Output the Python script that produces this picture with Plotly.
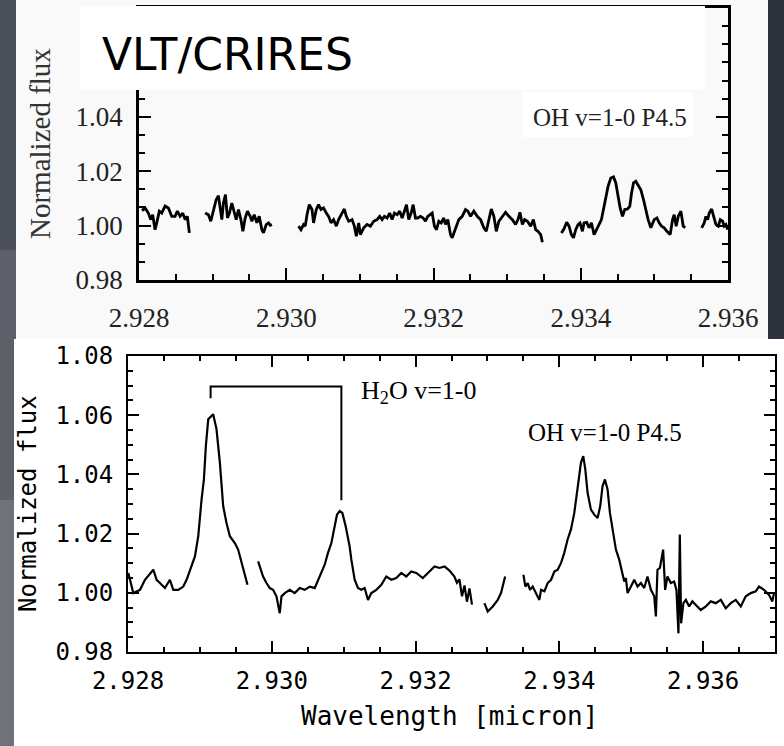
import plotly.graph_objects as go

# ---------------- data: top panel (VLT/CRIRES), segments separated by gaps ----------------
top_wl = [
    [2.928041, 2.928082, 2.928127, 2.928159, 2.928186, 2.928218, 2.928241, 2.928276, 2.928309,
     2.928354, 2.928399, 2.928445, 2.928490, 2.928521, 2.928558, 2.928595, 2.928626, 2.928657, 2.928684],
    [2.928898, 2.928943, 2.928975, 2.929011, 2.929048, 2.929079, 2.929102, 2.929125, 2.929147,
     2.929174, 2.929201, 2.929229, 2.929261, 2.929292, 2.929320, 2.929351, 2.929384, 2.929411,
     2.929442, 2.929473, 2.929510, 2.929533, 2.929565, 2.929601, 2.929633, 2.929669, 2.929691,
     2.929728, 2.929759, 2.929782, 2.929805],
    [2.930167, 2.930200, 2.930235, 2.930258, 2.930282, 2.930313, 2.930350, 2.930371, 2.930408,
     2.930439, 2.930472, 2.930507, 2.930544, 2.930575, 2.930608, 2.930643, 2.930680, 2.930711,
     2.930758, 2.930789, 2.930816, 2.930848, 2.930894, 2.930925, 2.930952, 2.930984, 2.931007,
     2.931052, 2.931098, 2.931143, 2.931188, 2.931234, 2.931269, 2.931302, 2.931333, 2.931370,
     2.931405, 2.931438, 2.931469, 2.931506, 2.931541, 2.931574, 2.931605, 2.931633, 2.931664,
     2.931696, 2.931724, 2.931755, 2.931786, 2.931823, 2.931860, 2.931891, 2.931922, 2.931959,
     2.931982, 2.932013, 2.932041, 2.932072, 2.932105, 2.932140, 2.932163, 2.932194, 2.932231,
     2.932254, 2.932299, 2.932344, 2.932390, 2.932435, 2.932467, 2.932503, 2.932548, 2.932594,
     2.932639, 2.932684, 2.932717, 2.932752, 2.932785, 2.932820, 2.932853, 2.932888, 2.932934,
     2.932979, 2.933024, 2.933071, 2.933115, 2.933147, 2.933174, 2.933207, 2.933238, 2.933275,
     2.933320, 2.933356, 2.933388, 2.933419, 2.933456, 2.933479],
    [2.933737, 2.933773, 2.933809, 2.933841, 2.933873, 2.933901, 2.933932, 2.933963, 2.933990,
     2.934023, 2.934045, 2.934081, 2.934113, 2.934145, 2.934181, 2.934213, 2.934249, 2.934281,
     2.934317, 2.934340, 2.934371, 2.934408, 2.934445, 2.934476, 2.934507, 2.934535, 2.934567,
     2.934598, 2.934635, 2.934666, 2.934690, 2.934717, 2.934748, 2.934779, 2.934816, 2.934853,
     2.934884, 2.934915, 2.934952, 2.934997, 2.935034, 2.935065, 2.935098, 2.935133, 2.935170,
     2.935215, 2.935247, 2.935269, 2.935296, 2.935324, 2.935360, 2.935392, 2.935419],
    [2.935642, 2.935677, 2.935700, 2.935724, 2.935745, 2.935778, 2.935805, 2.935836, 2.935868,
     2.935895, 2.935927, 2.935949, 2.935972, 2.935995],
]
top_flux = [
    [1.0055, 1.0065, 1.0046, 1.0022, 1.0040, 0.9985, 1.0010, 1.0053, 1.0046,
     1.0072, 1.0065, 1.0034, 1.0034, 1.0053, 1.0034, 1.0046, 1.0022, 1.0034, 0.9973],
    [1.0046, 1.0040, 1.0016, 1.0059, 1.0095, 1.0110, 1.0071, 1.0022, 1.0083,
     1.0114, 1.0028, 1.0046, 1.0083, 1.0046, 1.0022, 1.0059, 1.0022, 0.9979,
     1.0028, 1.0053, 1.0034, 1.0016, 1.0040, 1.0010, 1.0034, 0.9985, 0.9973,
     1.0004, 1.0010, 1.0001, 1.0004],
    [0.9998, 0.9985, 1.0004, 0.9998, 1.0040, 1.0077, 1.0059, 1.0010, 1.0059,
     1.0077, 1.0059, 1.0065, 1.0046, 1.0034, 1.0010, 1.0022, 0.9998, 1.0022,
     1.0046, 1.0061, 1.0034, 1.0016, 1.0022, 0.9998, 0.9961, 1.0010, 0.9967,
     0.9992, 1.0004, 0.9998, 1.0016, 1.0022, 1.0034, 1.0022, 1.0034, 1.0028,
     1.0046, 1.0022, 1.0046, 1.0040, 1.0053, 1.0028, 1.0053, 1.0077, 1.0022,
     1.0046, 1.0077, 1.0028, 1.0028, 1.0034, 1.0028, 1.0016, 1.0034, 1.0040,
     1.0046, 0.9998, 0.9985, 1.0016, 1.0010, 1.0028, 1.0004, 1.0022, 0.9967,
     0.9955, 0.9985, 1.0022, 1.0034, 1.0059, 1.0053, 1.0034, 1.0053, 1.0034,
     1.0022, 0.9992, 0.9979, 1.0022, 1.0061, 1.0034, 0.9979, 1.0016, 1.0034,
     1.0049, 1.0034, 1.0022, 1.0004, 1.0022, 1.0049, 1.0004, 1.0022, 1.0016,
     0.9998, 1.0022, 0.9985, 0.9979, 0.9967, 0.9939],
    [0.9973, 0.9988, 1.0012, 0.9998, 0.9967, 0.9955, 0.9985, 1.0004, 1.0010,
     0.9979, 1.0010, 1.0012, 0.9992, 1.0010, 0.9967, 0.9985, 1.0004, 1.0022,
     1.0071, 1.0108, 1.0144, 1.0175, 1.0179, 1.0157, 1.0108, 1.0065, 1.0034,
     1.0059, 1.0061, 1.0071, 1.0120, 1.0157, 1.0163, 1.0151, 1.0132, 1.0095,
     1.0059, 1.0022, 0.9992, 1.0022, 1.0028, 1.0010, 0.9998, 0.9992, 0.9979,
     0.9967, 1.0022, 1.0040, 0.9998, 1.0034, 1.0053, 0.9998, 0.9992],
    [0.9992, 1.0010, 1.0034, 1.0022, 1.0046, 1.0061, 1.0034, 1.0004, 0.9998,
     1.0022, 1.0016, 0.9998, 1.0004, 0.9985],
]

# ---------------- data: bottom panel ----------------
bot_wl = [
    [2.928004, 2.928074, 2.928167, 2.928236, 2.928352, 2.928398, 2.928444, 2.928514, 2.928583,
     2.928630, 2.928699, 2.928769, 2.928815, 2.928861, 2.928931, 2.928977, 2.929000, 2.929023,
     2.929056, 2.929083, 2.929116, 2.929185, 2.929231, 2.929278, 2.929324, 2.929370, 2.929417,
     2.929486, 2.929532, 2.929579, 2.929625, 2.929662],
    [2.929810, 2.929879, 2.929926, 2.929972, 2.930018, 2.930065, 2.930111, 2.930135, 2.930181,
     2.930250, 2.930319, 2.930389, 2.930458, 2.930528, 2.930597, 2.930643, 2.930690, 2.930736,
     2.930782, 2.930829, 2.930875, 2.930907, 2.930944, 2.930982, 2.931028, 2.931083, 2.931107,
     2.931153, 2.931199, 2.931246, 2.931292, 2.931338, 2.931385, 2.931454, 2.931524, 2.931593,
     2.931663, 2.931732, 2.931801, 2.931871, 2.931940, 2.932010, 2.932101, 2.932171, 2.932264,
     2.932333, 2.932403, 2.932472, 2.932540, 2.932576, 2.932611, 2.932646, 2.932681, 2.932715,
     2.932750, 2.932785],
    [2.932958, 2.933004, 2.933074, 2.933143, 2.933190, 2.933213, 2.933246],
    [2.933500, 2.933528, 2.933560, 2.933593, 2.933629, 2.933676, 2.933722, 2.933746, 2.933792,
     2.933838, 2.933885, 2.933931, 2.933977, 2.934024, 2.934069, 2.934115, 2.934162, 2.934208,
     2.934254, 2.934301, 2.934333, 2.934361, 2.934393, 2.934440, 2.934486, 2.934532, 2.934569,
     2.934601, 2.934634, 2.934671, 2.934704, 2.934740, 2.934787, 2.934833, 2.934879, 2.934903,
     2.934926, 2.934949, 2.934996, 2.935042, 2.935088, 2.935135, 2.935181, 2.935226, 2.935274,
     2.935320, 2.935343, 2.935365, 2.935399, 2.935444, 2.935472, 2.935504, 2.935551, 2.935597,
     2.935629, 2.935657, 2.935676, 2.935694, 2.935726, 2.935760, 2.935806, 2.935851, 2.935899,
     2.935968, 2.936038, 2.936107, 2.936176, 2.936246, 2.936315, 2.936385, 2.936454, 2.936524,
     2.936593, 2.936663, 2.936732, 2.936778, 2.936847, 2.936917, 2.936963, 2.936986],
]
bot_flux = [
    [1.0067, 0.9999, 1.0010, 1.0044, 1.0078, 1.0044, 1.0033, 1.0016, 1.0044,
     1.0010, 1.0010, 1.0021, 1.0044, 1.0078, 1.0123, 1.0191, 1.0270, 1.0315,
     1.0383, 1.0496, 1.0586, 1.0603, 1.0553, 1.0440, 1.0293, 1.0236, 1.0191,
     1.0168, 1.0146, 1.0101, 1.0067, 1.0027],
    [1.0106, 1.0055, 1.0033, 1.0016, 1.0010, 0.9988, 0.9931, 0.9988, 0.9999,
     1.0010, 0.9999, 1.0016, 1.0010, 1.0021, 1.0016, 1.0044, 1.0072, 1.0095,
     1.0135, 1.0168, 1.0225, 1.0264, 1.0276, 1.0270, 1.0225, 1.0157, 1.0112,
     1.0044, 1.0016, 1.0010, 1.0016, 0.9976, 0.9999, 1.0010, 1.0027, 1.0055,
     1.0044, 1.0050, 1.0067, 1.0055, 1.0072, 1.0067, 1.0050, 1.0067, 1.0089,
     1.0084, 1.0089, 1.0075, 1.0055, 1.0034, 1.0045, 0.9988, 1.0025, 0.9970,
     1.0015, 0.9960],
    [0.9965, 0.9937, 0.9954, 0.9976, 1.0000, 1.0020, 1.0055],
    [1.0061, 1.0021, 1.0033, 1.0010, 1.0021, 0.9999, 0.9976, 1.0010, 1.0005,
     1.0033, 1.0044, 1.0072, 1.0078, 1.0101, 1.0135, 1.0180, 1.0214, 1.0270,
     1.0360, 1.0440, 1.0462, 1.0417, 1.0338, 1.0281, 1.0264, 1.0253, 1.0293,
     1.0360, 1.0383, 1.0349, 1.0270, 1.0214, 1.0146, 1.0112, 1.0067, 1.0038,
     1.0050, 0.9999, 1.0021, 1.0044, 1.0021, 1.0033, 1.0016, 1.0055, 1.0010,
     0.9988, 0.9920, 1.0078, 1.0084, 1.0146, 1.0010, 1.0055, 1.0033, 1.0038,
     1.0010, 0.9863, 1.0197, 0.9897, 0.9965, 0.9976, 0.9954, 0.9971, 0.9959,
     0.9942, 0.9954, 0.9971, 0.9965, 0.9976, 0.9948, 0.9965, 0.9976, 0.9954,
     0.9988, 0.9999, 1.0005, 1.0021, 1.0010, 0.9993, 0.9971, 0.9999],
]

# H2O bracket (data units)
bracket_wl = [2.929149, 2.929149, 2.930968, 2.930968]
bracket_flux = [1.0657, 1.0697, 1.0697, 1.0313]

x_ticks = [2.928, 2.930, 2.932, 2.934, 2.936]
y_ticks = [0.98, 1.00, 1.02, 1.04, 1.06, 1.08]
top_y_labelled = [0.98, 1.00, 1.02, 1.04]
top_y_upper = [1.06, 1.08]


def join_segments(xs, ys):
    X, Y = [], []
    for xa, ya in zip(xs, ys):
        X.extend(xa + [None])
        Y.extend(ya + [None])
    return X, Y


W, H = 784, 746


def px(x):
    return x / W


def py(y):
    return 1 - y / H


fig = go.Figure()
tx, ty = join_segments(top_wl, top_flux)
fig.add_trace(go.Scatter(x=tx, y=ty, mode="lines", xaxis="x", yaxis="y",
                         line=dict(color="black", width=2.8), connectgaps=False,
                         showlegend=False, hoverinfo="skip"))
bx, by = join_segments(bot_wl, bot_flux)
fig.add_trace(go.Scatter(x=bx, y=by, mode="lines", xaxis="x2", yaxis="y2",
                         line=dict(color="black", width=2.2), connectgaps=False,
                         showlegend=False, hoverinfo="skip"))
fig.add_trace(go.Scatter(x=bracket_wl, y=bracket_flux, mode="lines", xaxis="x2", yaxis="y2",
                         line=dict(color="black", width=2), showlegend=False, hoverinfo="skip"))

serif = "Liberation Serif"
mono = "DejaVu Sans Mono"

axis_common = dict(showgrid=False, zeroline=False, showline=True, linecolor="black",
                   mirror="allticks", ticks="inside", tickcolor="black", automargin=False)

fig.update_layout(
    template=None,
    width=W, height=H, margin=dict(l=0, r=0, t=0, b=0, pad=0, autoexpand=False),
    paper_bgcolor="#3b3f48", plot_bgcolor="rgba(0,0,0,0)", showlegend=False,
    xaxis=dict(**axis_common, domain=[px(139), px(728)], range=[2.928, 2.936],
               tickvals=x_ticks, tickformat=".3f", ticklen=12, tickwidth=2, linewidth=2.5,
               minor=dict(dtick=0.0005, tick0=2.928, ticks="inside", ticklen=6, tickwidth=2, tickcolor="black"),
               tickfont=dict(family=serif, size=27, color="#222"), ticklabelstandoff=12,
               anchor="y"),
    yaxis=dict(**axis_common, domain=[py(280), py(8)], range=[0.98, 1.08],
               tickvals=top_y_labelled, tickformat=".2f", ticklen=12, tickwidth=2, linewidth=2.5,
               minor=dict(dtick=0.02 / 3, tick0=0.98, ticks="inside", ticklen=6, tickwidth=2, tickcolor="black"),
               tickfont=dict(family=serif, size=27, color="#222"), ticklabelstandoff=8,
               anchor="x"),
    yaxis3=dict(overlaying="y", side="right", anchor="x", range=[0.98, 1.08],
                tickvals=top_y_upper, showticklabels=False, ticks="inside", ticklen=12,
                tickwidth=2, tickcolor="black", showline=False, showgrid=False,
                zeroline=False, automargin=False),
    xaxis2=dict(**axis_common, domain=[px(128), px(775)], range=[2.928, 2.937],
                tickvals=x_ticks, tickformat=".3f", ticklen=11, tickwidth=1.6, linewidth=2,
                minor=dict(dtick=0.0005, tick0=2.928, ticks="inside", ticklen=5, tickwidth=1.6, tickcolor="black"),
                tickfont=dict(family=mono, size=24, color="black"), ticklabelstandoff=6,
                anchor="y2"),
    yaxis2=dict(**axis_common, domain=[py(652), py(356)], range=[0.98, 1.08],
                tickvals=y_ticks, tickformat=".2f", ticklen=11, tickwidth=1.6, linewidth=2,
                minor=dict(dtick=0.005, tick0=0.98, ticks="inside", ticklen=5, tickwidth=1.6, tickcolor="black"),
                tickfont=dict(family=mono, size=24, color="black"), ticklabelstandoff=8,
                anchor="x2"),
)

shapes = [
    # left strip shading
    dict(type="rect", xref="paper", yref="paper", x0=0, x1=px(16), y0=py(250), y1=1,
         fillcolor="#4b4f59", line_width=0, layer="below"),
    dict(type="rect", xref="paper", yref="paper", x0=0, x1=px(16), y0=py(500), y1=py(250),
         fillcolor="#5d6069", line_width=0, layer="below"),
    dict(type="rect", xref="paper", yref="paper", x0=0, x1=px(16), y0=0, y1=py(500),
         fillcolor="#6f727b", line_width=0, layer="below"),
    # right dark strip beside the top panel
    dict(type="rect", xref="paper", yref="paper", x0=px(768), x1=1, y0=py(339), y1=1,
         fillcolor="#2e323c", line_width=0, layer="below"),
    # top panel card
    dict(type="rect", xref="paper", yref="paper", x0=px(16), x1=px(768), y0=py(339), y1=1,
         fillcolor="#f9f9f9", line_width=0, layer="below"),
    # bottom panel card
    dict(type="rect", xref="paper", yref="paper", x0=px(14), x1=1, y0=0, y1=py(339),
         fillcolor="#ffffff", line_width=0, layer="below"),
    # white title box covering upper part of the top plot
    dict(type="rect", xref="paper", yref="paper", x0=px(80), x1=px(705), y0=py(90), y1=py(6),
         fillcolor="#ffffff", line_width=0, layer="above"),
    # label box
    dict(type="rect", xref="paper", yref="paper", x0=px(522), x1=px(693), y0=py(137), y1=py(92),
         fillcolor="#ffffff", line_width=0, layer="above"),
]
fig.update_layout(shapes=shapes)

annotations = [
    dict(text="VLT/CRIRES", x=px(100), y=py(54), xanchor="left", yanchor="middle",
         font=dict(family="DejaVu Sans", size=44, color="black")),
    dict(text="OH v=1-0 P4.5", x=px(531), y=py(117), xanchor="left", yanchor="middle",
         font=dict(family=serif, size=25, color="#222")),
    dict(text="Normalized flux", x=px(40), y=py(144), xanchor="center", yanchor="middle",
         textangle=-90, font=dict(family=serif, size=29, color="#333")),
    dict(text="H<sub>2</sub>O v=1-0", x=px(359), y=py(392), xanchor="left", yanchor="middle",
         font=dict(family=serif, size=26, color="black")),
    dict(text="OH v=1-0 P4.5", x=px(526), y=py(432), xanchor="left", yanchor="middle",
         font=dict(family=serif, size=25, color="black")),
    dict(text="Normalized flux", x=px(28), y=py(504), xanchor="center", yanchor="middle",
         textangle=-90, font=dict(family=mono, size=24, color="black")),
    dict(text="Wavelength [micron]", x=px(449), y=py(716), xanchor="center", yanchor="middle",
         font=dict(family=mono, size=26, color="black")),
]
for a in annotations:
    a.update(xref="paper", yref="paper", showarrow=False)
fig.update_layout(annotations=annotations)

fig.write_html("out.html")
